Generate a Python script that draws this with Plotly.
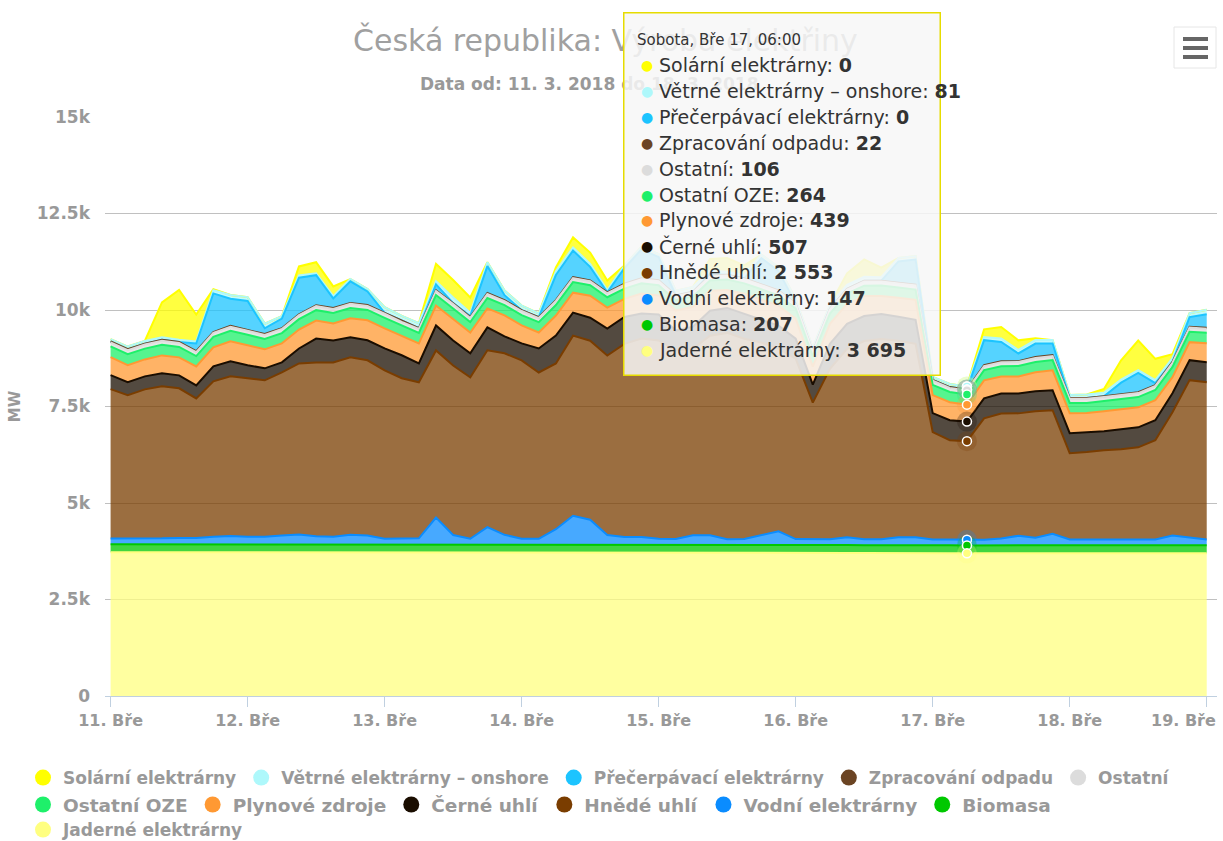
import numpy as np
import pandas as pd
import plotly.graph_objects as go

# ---------------- data (MW), 3-hourly samples 11.3.2018 00:00 .. 19.3.2018 00:00
times = pd.date_range("2018-03-11 00:00", periods=65, freq="3h")

jaderne = [3725,3725,3720,3720,3720,3718,3720,3722,
           3722,3720,3720,3718,3716,3718,3720,3720,
           3720,3722,3720,3718,3716,3718,3720,3720,
           3718,3716,3716,3714,3712,3714,3716,3716,
           3716,3714,3712,3710,3708,3710,3712,3712,
           3710,3710,3708,3706,3704,3706,3708,3708,
           3700,3698,3695,3694,3692,3694,3696,3696,
           3698,3700,3698,3696,3694,3696,3698,3700,
           3700]
biomasa = [205,205,204,204,205,205,206,206,
           206,205,205,204,204,205,206,206,
           206,206,205,205,204,205,206,206,
           206,205,205,204,204,205,206,206,
           206,206,205,205,204,205,206,206,
           206,206,205,205,204,205,206,206,
           207,207,207,207,206,206,207,207,
           207,207,206,206,206,207,207,207,
           207]
vodni = [150,150,150,160,170,170,200,220,
         200,200,230,260,220,200,250,230,
         150,150,160,700,250,150,450,250,
         150,150,400,750,650,250,200,200,
         150,150,250,250,150,150,250,350,
         150,150,150,200,150,150,200,200,
         150,150,147,150,180,250,200,300,
         150,150,150,150,150,150,250,200,
         150]
hnede_uhli = [3870,3715,3870,3938,3876,3617,4027,4137,
              4105,4053,4230,4433,4499,4519,4598,4541,
              4362,4155,4041,4329,4391,4181,4579,4702,
              4621,4310,4293,4668,4638,4650,5000,5140,
              5138,4879,4831,5168,5345,5190,4987,4731,
              4672,3534,4414,4881,5138,5190,5088,5011,
              2780,2573,2553,3143,3242,3172,3274,3200,
              2237,2263,2314,2340,2392,2573,3198,4076,
              4074]
cerne_uhli = [362,336,336,336,336,336,388,388,
              336,311,259,388,621,569,518,518,
              569,595,492,647,647,621,595,440,
              440,621,725,595,595,699,699,647,
              673,518,569,647,647,647,595,595,
              518,466,647,647,647,647,621,621,
              492,518,507,518,518,518,518,518,
              518,518,492,518,518,518,492,518,
              518]
plynove = [466,440,440,466,466,492,492,518,
           518,492,492,492,466,440,492,518,
           518,492,518,518,569,543,492,543,
           466,414,518,518,569,543,466,518,
           492,518,518,518,466,518,518,518,
           518,466,518,518,518,466,492,518,
           466,466,439,466,440,440,492,518,
           518,492,518,518,518,518,414,466,
           492]
ostatni_oze = [280,285,280,275,270,268,270,272,
               270,268,266,268,270,272,270,268,
               272,270,268,270,272,270,268,266,
               268,270,272,274,272,270,268,266,
               268,266,264,266,268,270,268,266,
               266,264,266,268,270,268,266,266,
               266,265,264,264,266,268,266,264,
               264,262,262,264,266,266,268,270,
               270]
ostatni = [104,105,106,106,105,104,104,105,
           106,106,105,104,104,105,106,106,
           105,104,104,105,106,106,105,104,
           104,105,106,106,105,104,104,105,
           106,106,105,104,104,105,106,106,
           105,104,104,105,106,106,105,104,
           105,105,106,106,105,104,104,105,
           106,106,105,104,104,105,106,106,
           105]
odpad = [22,22,21,21,22,22,23,23,
         22,22,21,21,22,22,23,23,
         22,22,21,21,22,22,23,23,
         22,22,21,21,22,22,23,23,
         22,22,21,21,22,22,23,23,
         22,22,21,21,22,22,23,23,
         22,22,22,21,22,22,23,23,
         22,22,21,21,22,22,23,23,
         22]
precerpavaci = [0,0,0,0,0,200,1000,700,
                750,150,250,950,780,250,560,350,
                0,0,0,150,0,30,700,130,
                0,0,650,690,350,0,400,750,
                600,0,0,50,0,0,680,500,
                0,0,0,0,0,0,550,650,
                0,0,0,650,500,200,350,300,
                0,0,0,300,500,50,0,250,
                350]
vetrne = [60,70,70,70,60,50,80,100,
          100,120,60,60,50,60,60,60,
          150,130,130,80,150,80,100,120,
          120,100,100,80,80,60,70,70,
          80,120,120,80,80,90,90,100,
          120,100,100,100,100,90,90,90,
          80,80,81,80,90,90,90,90,
          80,90,90,80,70,80,100,100,
          120]
solarni = [0,0,0,900,1290,700,30,0,
           0,0,0,230,285,250,0,0,
           0,0,0,450,450,400,0,0,
           0,0,100,260,290,246,0,0,
           0,0,0,300,350,250,0,0,
           0,0,0,300,450,250,0,0,
           0,0,0,200,300,250,50,0,
           0,0,100,500,770,550,100,0,
           0]

# series in legend / tooltip order (top of stack first)
series = [
    ("Solární elektrárny", solarni, "#ffff00"),
    ("Větrné elektrárny – onshore", vetrne, "#aef8fb"),
    ("Přečerpávací elektrárny", precerpavaci, "#1cc4ff"),
    ("Zpracování odpadu", odpad, "#6b4423"),
    ("Ostatní", ostatni, "#dcdcdc"),
    ("Ostatní OZE", ostatni_oze, "#1ef06a"),
    ("Plynové zdroje", plynove, "#ff9933"),
    ("Černé uhlí", cerne_uhli, "#1a0d00"),
    ("Hnědé uhlí", hnede_uhli, "#7a3d00"),
    ("Vodní elektrárny", vodni, "#0a8cff"),
    ("Biomasa", biomasa, "#00c800"),
    ("Jaderné elektrárny", jaderne, "#ffff80"),
]
legend_rows = ["legend"] * 5 + ["legend2"] * 6 + ["legend3"]

y_tickvals = [0, 2500, 5000, 7500, 10000, 12500, 15000]
y_ticktext = ["0", "2.5k", "5k", "7.5k", "10k", "12.5k", "15k"]
x_tickvals = pd.date_range("2018-03-11", "2018-03-19", freq="D")
x_ticktext = ["11. Bře", "12. Bře", "13. Bře", "14. Bře", "15. Bře",
              "16. Bře", "17. Bře", "18. Bře", "19. Bře"]

hover_index = 50  # Sobota 17. 3. 06:00

# ---------------- helpers
W, H = 1223, 841
L, R, T, B = 105, 6, 117, 145
PW, PH = W - L - R, H - T - B


def px(x):
    return (x - L) / PW


def py(y):
    return (H - B - y) / PH


def rgba(hexc, a):
    hexc = hexc.lstrip("#")
    r, g, b = int(hexc[0:2], 16), int(hexc[2:4], 16), int(hexc[4:6], 16)
    return f"rgba({r},{g},{b},{a})"


GREY = "#999999"
FONT = "DejaVu Sans"
tick_font = dict(family=FONT, size=16, color=GREY, weight="bold")

fig = go.Figure()

bottom_up = list(reversed(series))
# stacked fills
for name, vals, col in bottom_up:
    fig.add_trace(go.Scatter(
        x=times, y=vals, name=name, stackgroup="vyroba", mode="lines",
        line=dict(width=0, color=col), fillcolor=rgba(col, 0.75),
        showlegend=False, legendgroup=name, hoverinfo="skip"))

# series lines (lower series drawn last, like the original)
cum = np.cumsum(np.array([v for _, v, _ in bottom_up], dtype=float), axis=0)
tops = {name: cum[i] for i, (name, _, _) in enumerate(bottom_up)}
for name, vals, col in series:
    fig.add_trace(go.Scatter(
        x=times, y=tops[name], mode="lines", line=dict(color=col, width=2),
        showlegend=False, legendgroup=name, hoverinfo="skip"))

# hover markers at the tooltip time
hx = [times[hover_index]] * len(series)
hy = [tops[name][hover_index] for name, _, _ in series]
hc = [col for _, _, col in series]
fig.add_trace(go.Scatter(
    x=hx, y=hy, mode="markers", showlegend=False, hoverinfo="skip",
    marker=dict(size=20, color=[rgba(c, 0.25) for c in hc], line=dict(width=0))))
fig.add_trace(go.Scatter(
    x=hx, y=hy, mode="markers", showlegend=False, hoverinfo="skip",
    marker=dict(size=9, color=hc, line=dict(width=1.5, color="white"))))

# legend entries (circle symbols), three rows like the original
for (name, vals, col), lg in zip(series, legend_rows):
    fig.add_trace(go.Scatter(
        x=[None], y=[None], mode="markers", name=name, legendgroup=name,
        legend=lg, marker=dict(size=16, color=col, symbol="circle"),
        hoverinfo="skip"))

# ---------------- annotations: title, subtitle, tooltip
ann = []
ann.append(dict(text="Česká republika: Výroba elektřiny", x=px(605), y=py(40),
                xref="paper", yref="paper", xanchor="center", yanchor="middle",
                showarrow=False, font=dict(family=FONT, size=30, color="#a0a0a0")))
ann.append(dict(text="Data od: 11. 3. 2018 do 18. 3. 2018", x=px(418), y=py(84),
                xref="paper", yref="paper", xanchor="left", yanchor="middle",
                showarrow=False,
                font=dict(family=FONT, size=17, color=GREY, weight="bold")))
# last x tick label, pulled inside the chart edge as in the original
ann.append(dict(text=x_ticktext[-1], x=px(1218), y=py(709), xref="paper", yref="paper",
                xanchor="right", yanchor="top", showarrow=False, font=tick_font))
# tooltip box
ann.append(dict(text=" ", x=px(781.5), y=py(193.5), xref="paper", yref="paper",
                xanchor="center", yanchor="middle", showarrow=False,
                width=315, height=361, bgcolor="rgba(247,247,247,0.85)",
                bordercolor="#e6dc00", borderwidth=1.5, borderpad=0))
ann.append(dict(text="Sobota, Bře 17, 06:00", x=px(635), y=py(40),
                xref="paper", yref="paper", xanchor="left", yanchor="middle",
                showarrow=False, font=dict(family=FONT, size=15, color="#333333")))
for i, (name, vals, col) in enumerate(series):
    yrow = 65 + 25.9 * i
    val = f"{vals[hover_index]:,}".replace(",", " ")
    ann.append(dict(text="●", x=px(647), y=py(yrow), xref="paper", yref="paper",
                    xanchor="center", yanchor="middle", showarrow=False,
                    font=dict(family=FONT, size=14, color=col)))
    ann.append(dict(text=f"{name}: <b>{val}</b>", x=px(657), y=py(yrow),
                    xref="paper", yref="paper", xanchor="left", yanchor="middle",
                    showarrow=False, font=dict(family=FONT, size=19, color="#333333")))

# export (hamburger) button
shapes = [
    dict(type="rect", xref="paper", yref="paper", x0=px(1174), x1=px(1216),
         y0=py(68), y1=py(27), line=dict(color="#e6e6e6", width=1),
         fillcolor="white", layer="above"),
]
for yb in (37, 46, 55):
    shapes.append(dict(type="rect", xref="paper", yref="paper",
                       x0=px(1183), x1=px(1208), y0=py(yb + 4), y1=py(yb),
                       line=dict(width=0), fillcolor="#666666", layer="above"))

legend_style = dict(orientation="h", x=px(23), xanchor="left", yanchor="top",
                    traceorder="normal", itemsizing="trace",
                    bgcolor="rgba(0,0,0,0)", itemclick=False, itemdoubleclick=False)
legend_font = dict(family=FONT, size=17, color=GREY, weight="bold")

t0 = pd.Timestamp("2018-03-11 00:00")
fig.update_layout(
    width=W, height=H,
    margin=dict(l=L, r=R, t=T, b=B, pad=0, autoexpand=False),
    paper_bgcolor="white", plot_bgcolor="white",
    font=dict(family=FONT, color=GREY),
    showlegend=True,
    legend=dict(legend_style, y=py(760), font=legend_font),
    legend2=dict(legend_style, y=py(786), font=dict(legend_font, size=18.5)),
    legend3=dict(legend_style, y=py(812), font=legend_font),
    xaxis=dict(type="date", automargin=False,
               range=[t0 - pd.Timedelta(hours=0.98), t0 + pd.Timedelta(hours=193.8)],
               tickvals=x_tickvals, ticktext=x_ticktext[:-1] + [""],
               showgrid=False, zeroline=False, showline=True,
               linecolor="#C0D0E0", linewidth=1, ticks="outside", ticklen=10,
               tickcolor="#C0D0E0", tickwidth=1,
               tickfont=tick_font),
    yaxis=dict(range=[0, 15000], tickvals=y_tickvals, ticktext=y_ticktext,
               automargin=False,
               showgrid=True, gridcolor="#c0c0c0", gridwidth=1,
               zeroline=False, showline=False, ticks="",
               ticklabelstandoff=14,
               tickfont=dict(family=FONT, size=17, color=GREY, weight="bold"),
               title=dict(text="MW", standoff=12,
                          font=dict(family=FONT, size=15, color=GREY, weight="bold"))),
    annotations=ann,
    shapes=shapes,
    hovermode=False,
)

fig.write_html("out.html", config={"displayModeBar": False},
               post_script="document.body.style.margin='0';")
